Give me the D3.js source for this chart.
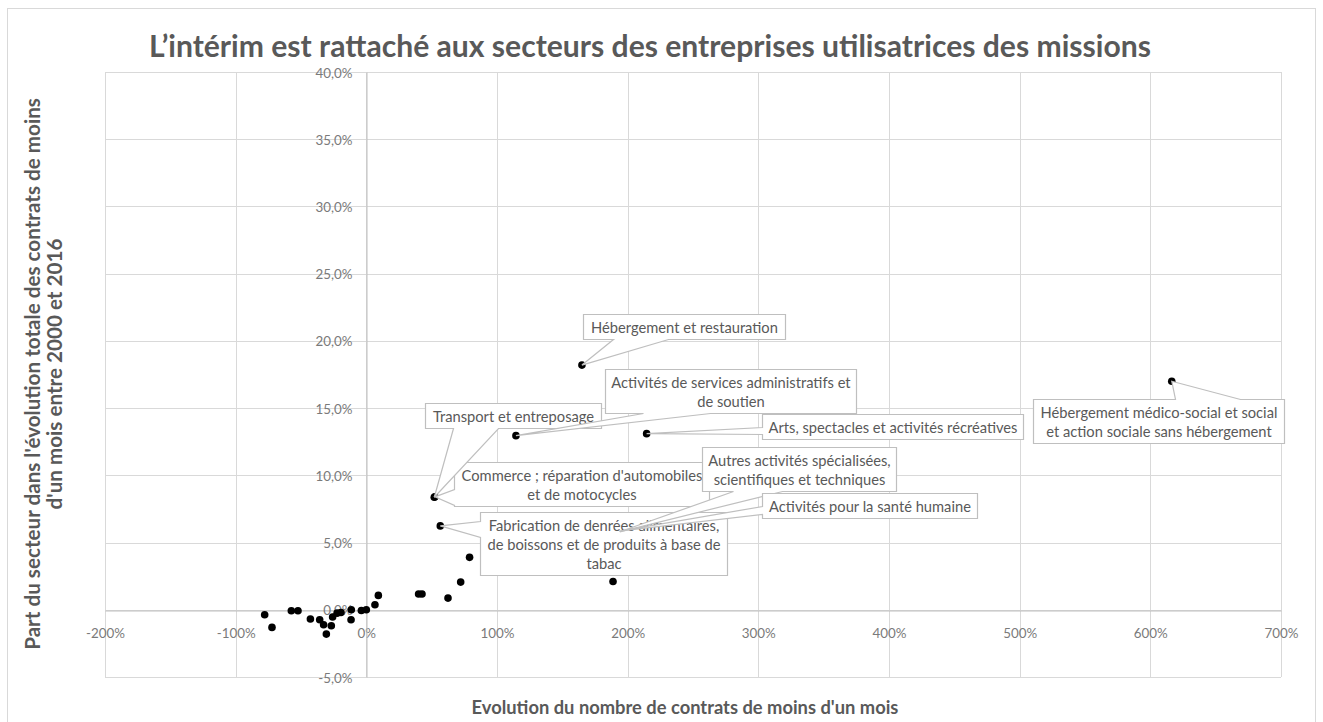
<!DOCTYPE html>
<html><head><meta charset="utf-8">
<script src="https://cdn.jsdelivr.net/npm/d3@7"></script>
<style>body{margin:0;background:#fff;} svg{display:block;}</style>
</head><body><svg id="chart" width="1323" height="722"></svg>
<script>
// ---------- DATA ----------
const chartTitle = "L’intérim est rattaché aux secteurs des entreprises utilisatrices des missions";
const xAxisTitle = "Evolution du nombre de contrats de moins d'un mois";
const yAxisTitle = ["Part du secteur dans l'évolution totale des contrats de moins", "d'un mois entre 2000 et 2016"];
const xTicks = [-2, -1, 0, 1, 2, 3, 4, 5, 6, 7];
const yTicks = [-0.05, 0, 0.05, 0.10, 0.15, 0.20, 0.25, 0.30, 0.35, 0.40];

// labelled sectors (lines of the label)
const sectorLabels = [
  ["Hébergement et restauration"],
  ["Activités de services administratifs et", "de soutien"],
  ["Arts, spectacles et activités récréatives"],
  ["Transport et entreposage"],
  ["Commerce ; réparation d'automobiles", "et de motocycles"],
  ["Fabrication de denrées alimentaires,", "de boissons et de produits à base de", "tabac"],
  ["Autres activités spécialisées,", "scientifiques et techniques"],
  ["Activités pour la santé humaine"],
  ["Hébergement médico-social et social", "et action sociale sans hébergement"]
];
const sectorX = [1.65, 1.145, 2.145, 0.52, 0.525, 0.566, 1.94, 1.935, 6.164];
const sectorY = [0.182, 0.1295, 0.131, 0.0837, 0.0840, 0.0624, 0.058, 0.0585, 0.170];

// unlabelled sectors
const otherX = [0.79, 0.722, 0.625, 0.40, 0.426, 1.888, 0.092, 0.066, 0.0, -0.038, -0.115, -0.117,
  -0.194, -0.224, -0.258, -0.268, -0.306, -0.327, -0.357, -0.428, -0.523, -0.574, -0.722, -0.778];
const otherY = [0.039, 0.0206, 0.0087, 0.0117, 0.0117, 0.021, 0.0107, 0.0037, 0.0, -0.0005, 0.0, -0.0074,
  -0.002, -0.0025, -0.0054, -0.0119, -0.0181, -0.0111, -0.0074, -0.0069, -0.0007, -0.0007, -0.0131, -0.0037];

// ---------- LAYOUT (pixels) ----------
const labelLayout = [
  {dx: 102, dy: -38.5, w: 202, edge: "bottom", a: 30, b: 85},
  {dx: 215, dy: -44.7, w: 251, edge: "bottom", a: 38, b: 105},
  {dx: 246, dy: -6.8, w: 261, edge: "left", a: 13, b: 20},
  {dx: 79, dy: -81.8, w: 176, edge: "bottom", a: 28, b: 73},
  {dx: 146.5, dy: -12.8, w: 255, edge: "left", a: 27, b: 43},
  {dx: 163.5, dy: 17.5, w: 247, edge: "left", a: 9, b: 25},
  {dx: 179, dy: -63, w: 194, edge: "bottom", a: 31, b: 80},
  {dx: 250.5, dy: -25.5, w: 215, edge: "left", a: 13, b: 21},
  {dx: -13, dy: 40, w: 251, edge: "top", a: 142, b: 207}
];
const drawOrder = [4, 5, 3, 6, 7, 0, 1, 2, 8];

const FONT = "Lato, 'Open Sans', sans-serif";
const M = {left: 105, right: 1281, top: 72, bottom: 677};

function draw() {
  const svg = d3.select("#chart");
  function fitSize(txt, weight, target) {
    const t = svg.append("text").attr("font-family", FONT).attr("font-weight", weight)
      .attr("font-size", 100).text(txt);
    const w = t.node().getComputedTextLength(); t.remove();
    return 100 * target / w;
  }
  const titleSize = fitSize(chartTitle, "bold", 1002);
  const axisTitleSize = fitSize(xAxisTitle, "bold", 427);
  const yTitleSize = fitSize(yAxisTitle[0], "bold", 552);
  const tickSize = fitSize("-100%", "normal", 39);
  const labelSize = fitSize("Hébergement et restauration", "normal", 187);

  svg.append("rect").attr("x", 0).attr("y", 0).attr("width", 1323).attr("height", 722).attr("fill", "#fff");
  svg.append("rect").attr("x", 7.5).attr("y", 8.5).attr("width", 1308).attr("height", 730)
    .attr("fill", "#fff").attr("stroke", "#d9d9d9");

  const x = d3.scaleLinear().domain([-2, 7]).range([M.left, M.right]);
  const y = d3.scaleLinear().domain([-0.05, 0.40]).range([M.bottom, M.top]);

  const g = svg.append("g");
  g.selectAll("line.v").data(xTicks).join("line")
    .attr("x1", d => Math.round(x(d)) + 0.5).attr("x2", d => Math.round(x(d)) + 0.5)
    .attr("y1", M.top).attr("y2", M.bottom).attr("stroke", "#d9d9d9");
  g.selectAll("line.h").data(yTicks).join("line")
    .attr("y1", d => Math.round(y(d)) + 0.5).attr("y2", d => Math.round(y(d)) + 0.5)
    .attr("x1", M.left).attr("x2", M.right).attr("stroke", "#d9d9d9");

  const xAxis = d3.axisBottom(x).tickValues(xTicks).tickSize(0).tickPadding(0)
    .tickFormat(d => Math.round(d * 100) + "%");
  const ax = svg.append("g").attr("transform", `translate(0,${Math.round(y(0)) + 0.5})`).call(xAxis);
  ax.select(".domain").attr("stroke", "#bfbfbf");
  ax.selectAll("text").attr("font-family", FONT).attr("font-size", tickSize).attr("fill", "#7a7a7a")
    .attr("dy", null).attr("y", 22).attr("dominant-baseline", "central");

  const yAxis = d3.axisLeft(y).tickValues(yTicks).tickSize(0).tickPadding(0)
    .tickFormat(d => (d * 100).toFixed(1).replace(".", ",").replace("−", "-") + "%");
  const ay = svg.append("g").attr("transform", `translate(${Math.round(x(0)) + 0.5},0)`).call(yAxis);
  ay.select(".domain").attr("stroke", "#bfbfbf");
  ay.selectAll("text").attr("font-family", FONT).attr("font-size", tickSize).attr("fill", "#7a7a7a")
    .attr("x", -14).attr("dy", null).attr("dominant-baseline", "central");

  const others = otherX.map((v, i) => ({x: v, y: otherY[i]}));
  const sectors = sectorX.map((v, i) => ({x: v, y: sectorY[i], lines: sectorLabels[i], lay: labelLayout[i]}));
  svg.append("g").selectAll("circle").data(others.concat(sectors)).join("circle")
    .attr("cx", d => x(d.x)).attr("cy", d => y(d.y)).attr("r", 3.8).attr("fill", "#000");

  const lg = svg.append("g");
  drawOrder.forEach(i => {
    const s = sectors[i], L = s.lay;
    const px = x(s.x), py = y(s.y);
    const h = 19 * s.lines.length + 6;
    const cx = px + L.dx, cy = py + L.dy;
    const l = Math.round(cx - L.w / 2) + 0.5, t = Math.round(cy - h / 2) + 0.5;
    const r = l + L.w, b = t + h;
    let p;
    if (L.edge === "bottom") {
      p = `M${l},${t}H${r}V${b}H${l + L.b}L${px},${py}L${l + L.a},${b}H${l}Z`;
    } else if (L.edge === "top") {
      p = `M${l},${t}H${l + L.a}L${px},${py}L${l + L.b},${t}H${r}V${b}H${l}Z`;
    } else {
      p = `M${l},${t}H${r}V${b}H${l}V${t + L.b}L${px},${py}L${l},${t + L.a}Z`;
    }
    lg.append("path").attr("d", p).attr("fill", "#fff").attr("stroke", "#bfbfbf").attr("stroke-width", 1.2);
    s.lines.forEach((ln, k) => {
      lg.append("text").attr("x", l + L.w / 2).attr("y", t + 3 + 9.5 + 19 * k)
        .attr("text-anchor", "middle").attr("dominant-baseline", "central")
        .attr("font-family", FONT).attr("font-size", labelSize).attr("fill", "#595959").text(ln);
    });
  });

  svg.append("text").attr("x", 650).attr("y", 45).attr("text-anchor", "middle").attr("dominant-baseline", "central")
    .attr("font-family", FONT).attr("font-weight", "bold").attr("font-size", titleSize).attr("fill", "#595959")
    .text(chartTitle);
  svg.append("text").attr("x", 685).attr("y", 707).attr("text-anchor", "middle").attr("dominant-baseline", "central")
    .attr("font-family", FONT).attr("font-weight", "bold").attr("font-size", axisTitleSize).attr("fill", "#595959")
    .text(xAxisTitle);
  yAxisTitle.forEach((ln, k) => {
    svg.append("text").attr("transform", `translate(${32 + 22 * k},374) rotate(-90)`)
      .attr("text-anchor", "middle").attr("dominant-baseline", "central")
      .attr("font-family", FONT).attr("font-weight", "bold").attr("font-size", yTitleSize).attr("fill", "#595959")
      .text(ln);
  });
}
if (document.fonts && document.fonts.ready) { document.fonts.ready.then(draw); } else { draw(); }
</script>
</body></html>
